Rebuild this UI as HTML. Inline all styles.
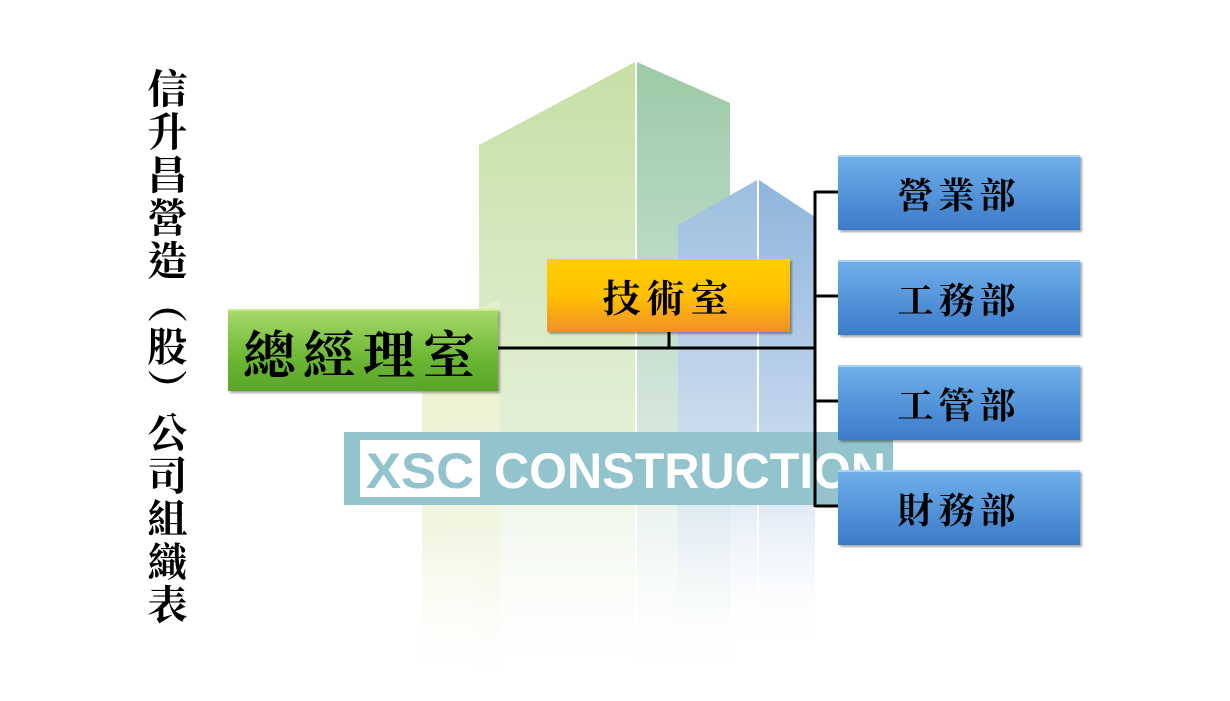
<!DOCTYPE html>
<html><head><meta charset="utf-8"><style>
body{margin:0;background:#fff;}
.w{position:relative;width:1230px;height:701px;overflow:hidden;background:#fff;font-family:"Liberation Serif","Noto Serif CJK TC","Noto Serif CJK SC",serif;}
.t{position:absolute;left:142px;top:68px;writing-mode:vertical-rl;font-size:40px;line-height:44px;letter-spacing:3px;color:#000;font-weight:bold;}
.box{position:absolute;display:flex;align-items:center;justify-content:center;color:#000;box-shadow:2px 2px 2px rgba(0,0,0,.35);}
.g{left:228px;top:309px;width:270px;height:80px;background:linear-gradient(#a6d96a,#6bb733 60%,#5ba42a);border-top:2px solid #c8ee8f;font-size:52px;letter-spacing:8px;font-weight:bold;}
.o{left:547px;top:259px;width:243px;height:73px;background:linear-gradient(#ffd000,#ffc000 50%,#f0902a);font-size:38px;letter-spacing:6px;font-weight:bold;}
.b{left:838px;width:242px;height:73px;background:linear-gradient(#6fb0ea,#4f8fd6 60%,#3d7cc8);border-top:2px solid #a6d2f7;font-size:36px;letter-spacing:5px;font-weight:bold;}
</style></head><body><div class="w">
<svg width="1230" height="701" style="position:absolute;left:0;top:0">
<defs>
<linearGradient id="gl" x1="0" y1="0" x2="0" y2="1"><stop offset="0" stop-color="#c5e0a5"/><stop offset=".6" stop-color="#e3f0d8"/><stop offset="1" stop-color="#fff" stop-opacity="0"/></linearGradient>
<linearGradient id="gr" x1="0" y1="0" x2="0" y2="1"><stop offset="0" stop-color="#9ccaa6"/><stop offset=".6" stop-color="#d6e8de"/><stop offset="1" stop-color="#fff" stop-opacity="0"/></linearGradient>
<linearGradient id="bl" x1="0" y1="0" x2="0" y2="1"><stop offset="0" stop-color="#9dbfdf"/><stop offset=".6" stop-color="#d0dff0"/><stop offset="1" stop-color="#fff" stop-opacity="0"/></linearGradient>
<linearGradient id="br" x1="0" y1="0" x2="0" y2="1"><stop offset="0" stop-color="#8fb5dc"/><stop offset=".6" stop-color="#cadbef"/><stop offset="1" stop-color="#fff" stop-opacity="0"/></linearGradient>
<linearGradient id="yl" x1="0" y1="0" x2="0" y2="1"><stop offset="0" stop-color="#e6efc6"/><stop offset=".6" stop-color="#f3f6e2"/><stop offset="1" stop-color="#fff" stop-opacity="0"/></linearGradient>
</defs>
<polygon points="479,145 635,62 635,690 479,690" fill="url(#gl)"/>
<polygon points="637,62 730,103 730,690 637,690" fill="url(#gr)"/>
<polygon points="422,330 500,300 500,690 422,690" fill="url(#yl)"/>
<polygon points="678,225 757,180 757,650 678,650" fill="url(#bl)"/>
<polygon points="759,180 815,217 815,650 759,650" fill="url(#br)"/>
<rect x="344" y="432" width="549" height="73" fill="#93c3cc"/>
<rect x="360" y="440" width="120" height="57" fill="#fff"/>
<text x="420" y="488" text-anchor="middle" font-family="Liberation Sans" font-weight="bold" font-size="50" fill="#93c3cc" textLength="108" lengthAdjust="spacingAndGlyphs">XSC</text>
<text x="494" y="488" font-family="Liberation Sans" font-weight="bold" font-size="50" fill="#fff" textLength="392" lengthAdjust="spacingAndGlyphs">CONSTRUCTION</text>
<g stroke="#000" stroke-width="3" fill="none">
<line x1="498" y1="348" x2="815" y2="348"/>
<line x1="669" y1="332" x2="669" y2="348"/>
<line x1="815" y1="191" x2="815" y2="507"/>
<line x1="815" y1="192" x2="838" y2="192"/>
<line x1="815" y1="296" x2="838" y2="296"/>
<line x1="815" y1="401" x2="838" y2="401"/>
<line x1="815" y1="506" x2="838" y2="506"/>
</g>
</svg>
<div class="t">信升昌營造︵股︶公司組織表</div>
<div class="box g">總經理室</div>
<div class="box o">技術室</div>
<div class="box b" style="top:155px">營業部</div>
<div class="box b" style="top:260px">工務部</div>
<div class="box b" style="top:365px">工管部</div>
<div class="box b" style="top:470px">財務部</div>
</div></body></html>
